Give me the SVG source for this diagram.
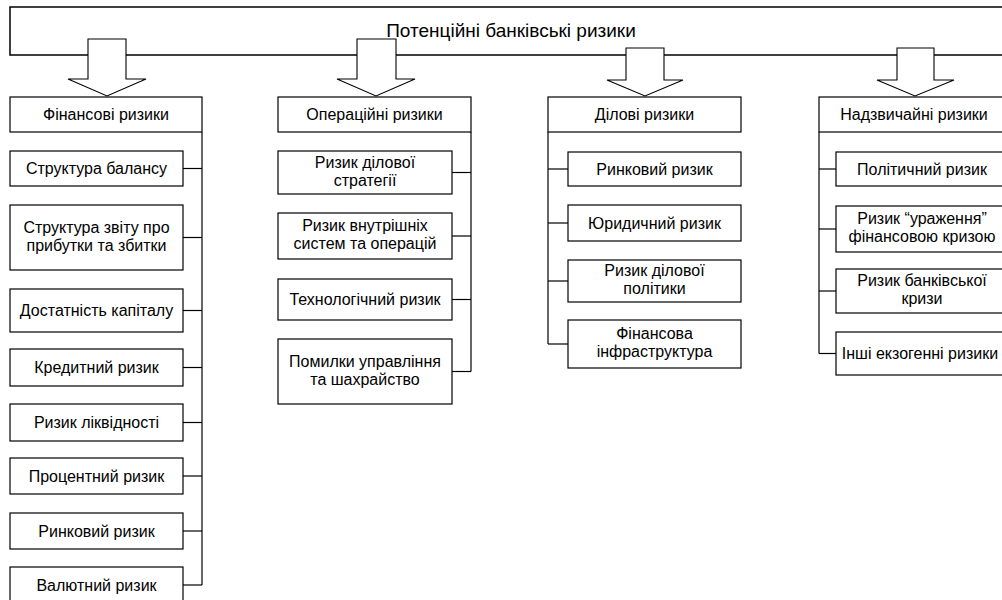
<svg xmlns="http://www.w3.org/2000/svg" width="1002" height="600" viewBox="0 0 1002 600">
<style>
rect.box{fill:#fff;stroke:#000;stroke-width:1.2}
.top{fill:#fff;stroke:#000;stroke-width:1.5}
.arrow{fill:#fff;stroke:#000;stroke-width:1.1;stroke-linejoin:miter}
text{font-family:"Liberation Sans",Arial,sans-serif;font-size:16px;fill:#000;text-anchor:middle}
.title{font-size:19px}
#connectors line{stroke:#000;stroke-width:1.2}
</style>
<rect width="1002" height="600" fill="#fff"/>
<g id="root">
<rect class="top" x="10" y="7" width="1010" height="48"/>
</g>
<g id="arrows">
<polygon class="arrow" points="88,39 126,39 126,79 146,79 107,96 68,79 88,79"/>
<polygon class="arrow" points="357,39 396,39 396,79 415,79 376,96 337,79 357,79"/>
<polygon class="arrow" points="626,48 664,48 664,80 683,80 645,96 607,80 626,80"/>
<polygon class="arrow" points="897,48 934,48 934,80 954,80 915,96 877,80 897,80"/>
</g>
<g id="root-label">
<text class="title" x="511" y="37">Потенційні банківські ризики</text>
</g>
<g id="connectors">
<line x1="202" y1="132" x2="202" y2="585"/>
<line x1="183" y1="168.5" x2="202" y2="168.5"/>
<line x1="183" y1="237.5" x2="202" y2="237.5"/>
<line x1="183" y1="310.5" x2="202" y2="310.5"/>
<line x1="183" y1="367.5" x2="202" y2="367.5"/>
<line x1="183" y1="422.5" x2="202" y2="422.5"/>
<line x1="183" y1="476" x2="202" y2="476"/>
<line x1="183" y1="531" x2="202" y2="531"/>
<line x1="183" y1="585" x2="202" y2="585"/>
<line x1="471" y1="132" x2="471" y2="371.5"/>
<line x1="452" y1="172.5" x2="471" y2="172.5"/>
<line x1="452" y1="236" x2="471" y2="236"/>
<line x1="452" y1="299.5" x2="471" y2="299.5"/>
<line x1="452" y1="371.5" x2="471" y2="371.5"/>
<line x1="548" y1="132" x2="548" y2="344"/>
<line x1="548" y1="169" x2="568" y2="169"/>
<line x1="548" y1="223" x2="568" y2="223"/>
<line x1="548" y1="281" x2="568" y2="281"/>
<line x1="548" y1="344" x2="568" y2="344"/>
<line x1="819" y1="132" x2="819" y2="353.5"/>
<line x1="819" y1="169" x2="836" y2="169"/>
<line x1="819" y1="229" x2="836" y2="229"/>
<line x1="819" y1="291" x2="836" y2="291"/>
<line x1="819" y1="353.5" x2="836" y2="353.5"/>
</g>
<g id="fin">
<rect class="box" x="10" y="97" width="192" height="35"/>
<text x="106" y="120">Фінансові ризики</text>
</g>
<g id="fin1"><rect class="box" x="10" y="151" width="173" height="35"/><text x="96.5" y="174">Структура балансу</text></g>
<g id="fin2"><rect class="box" x="10" y="205" width="173" height="65"/><text x="96.5" y="232.5">Структура звіту про</text><text x="96.5" y="250.5">прибутки та збитки</text></g>
<g id="fin3"><rect class="box" x="10" y="289" width="173" height="43"/><text x="96.5" y="316">Достатність капіталу</text></g>
<g id="fin4"><rect class="box" x="10" y="349" width="173" height="37"/><text x="96.5" y="373">Кредитний ризик</text></g>
<g id="fin5"><rect class="box" x="10" y="404" width="173" height="37"/><text x="96.5" y="428">Ризик ліквідності</text></g>
<g id="fin6"><rect class="box" x="10" y="458" width="173" height="36"/><text x="96.5" y="481.5">Процентний ризик</text></g>
<g id="fin7"><rect class="box" x="10" y="513" width="173" height="36"/><text x="96.5" y="536.5">Ринковий ризик</text></g>
<g id="fin8"><rect class="box" x="10" y="567" width="173" height="40"/><text x="96.5" y="590.5">Валютний ризик</text></g>
<g id="op">
<rect class="box" x="278" y="97" width="193" height="35"/>
<text x="374.5" y="120">Операційні ризики</text>
</g>
<g id="op1"><rect class="box" x="278" y="151" width="174" height="43"/><text x="365" y="167.5">Ризик ділової</text><text x="365" y="185.5">стратегії</text></g>
<g id="op2"><rect class="box" x="278" y="213" width="174" height="46"/><text x="365" y="231">Ризик внутрішніх</text><text x="365" y="249">систем та операцій</text></g>
<g id="op3"><rect class="box" x="278" y="279" width="174" height="41"/><text x="365" y="305">Технологічний ризик</text></g>
<g id="op4"><rect class="box" x="278" y="339" width="174" height="65"/><text x="365" y="366.5">Помилки управління</text><text x="365" y="384.5">та шахрайство</text></g>
<g id="bus">
<rect class="box" x="548" y="97" width="193" height="35"/>
<text x="644.5" y="120">Ділові ризики</text>
</g>
<g id="bus1"><rect class="box" x="568" y="152" width="173" height="34"/><text x="654.5" y="174.5">Ринковий ризик</text></g>
<g id="bus2"><rect class="box" x="568" y="205" width="173" height="36"/><text x="654.5" y="228.5">Юридичний ризик</text></g>
<g id="bus3"><rect class="box" x="568" y="260" width="173" height="42"/><text x="654.5" y="276">Ризик ділової</text><text x="654.5" y="294">політики</text></g>
<g id="bus4"><rect class="box" x="568" y="320" width="173" height="48"/><text x="654.5" y="339">Фінансова</text><text x="654.5" y="357">інфраструктура</text></g>
<g id="ext">
<rect class="box" x="819" y="97" width="190" height="35"/>
<text x="914" y="120">Надзвичайні ризики</text>
</g>
<g id="ext1"><rect class="box" x="836" y="152" width="174" height="34"/><text x="922" y="174.5">Політичний ризик</text></g>
<g id="ext2"><rect class="box" x="836" y="206" width="174" height="46"/><text x="922" y="224">Ризик “ураження”</text><text x="922" y="242">фінансовою кризою</text></g>
<g id="ext3"><rect class="box" x="836" y="269" width="174" height="44"/><text x="922" y="286">Ризик банківської</text><text x="922" y="304">кризи</text></g>
<g id="ext4"><rect class="box" x="836" y="332" width="174" height="43"/><text x="920" y="359">Інші екзогенні ризики</text></g>
</svg>
